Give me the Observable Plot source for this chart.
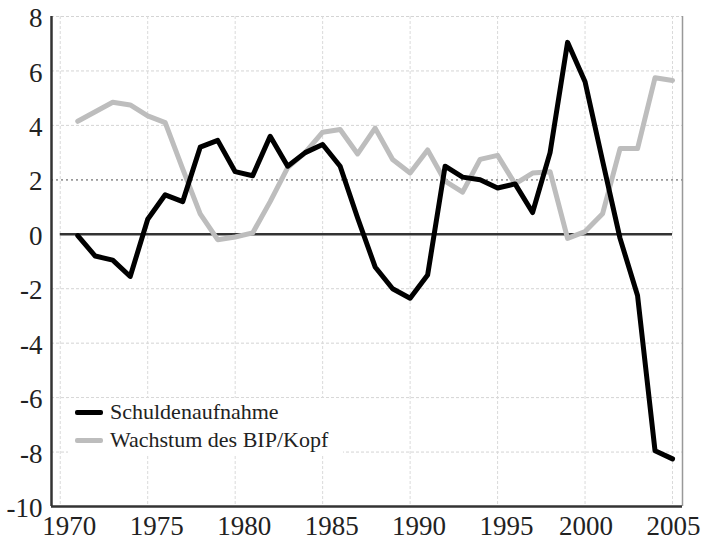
<!DOCTYPE html>
<html>
<head>
<meta charset="utf-8">
<script src="https://cdn.jsdelivr.net/npm/d3@7"></script>
<script src="https://cdn.jsdelivr.net/npm/@observablehq/plot@0.6"></script>
<style>
  html, body { margin: 0; padding: 0; background: #fff; }
  #wrap { position: relative; width: 702px; height: 537px; }
  #chart svg, #chart svg text { font-family: "Liberation Serif", serif !important; }
  #chart svg text { font-size: 27px; }
  #legend { position: absolute; left: 68px; top: 398px; width: 275px; height: 56px; background: #fff;
            font-family: "Liberation Serif", serif; font-size: 22px; color: #222; }
  .row { position: absolute; left: 0; height: 28px; display: flex; align-items: center; }
  .sw { display: inline-block; width: 28px; height: 5px; margin-left: 7px; margin-right: 7px; border-radius: 2px; }
</style>
</head>
<body>
<div id="wrap">
  <div id="chart"></div>
  <div id="legend"></div>
</div>
<script>
const years = d3.range(1971, 2006);
const schuldenaufnahme = [
  -0.05, -0.8, -0.95, -1.55, 0.55, 1.45, 1.2, 3.2, 3.45, 2.3,
  2.15, 3.6, 2.5, 3.0, 3.3, 2.5, 0.6, -1.2, -2.0, -2.35,
  -1.5, 2.5, 2.1, 2.0, 1.7, 1.85, 0.8, 3.0, 7.05, 5.6,
  2.7, -0.15, -2.25, -7.95, -8.25
];
const wachstumBIP = [
  4.15, 4.5, 4.85, 4.75, 4.35, 4.1, 2.4, 0.75, -0.2, -0.1,
  0.05, 1.2, 2.45, 3.0, 3.75, 3.85, 2.95, 3.9, 2.75, 2.25,
  3.1, 1.95, 1.55, 2.75, 2.9, 1.85, 2.25, 2.3, -0.15, 0.1,
  0.75, 3.15, 3.15, 5.75, 5.65
];
const seriesNames = ["Schuldenaufnahme", "Wachstum des BIP/Kopf"];
const seriesColors = ["#000000", "#bdbdbd"];
const xTicksA = [1970, 1975, 1980, 1985, 1990, 1995];
const xTicksB = [2000, 2005];
const yTicks = [-10, -8, -6, -4, -2, 0, 2, 4, 6, 8];
const xDomain = [1969.5, 2005.57];
const yDomain = [-10, 8];

const rows = [];
years.forEach((yr, i) => {
  rows.push({year: yr, value: schuldenaufnahme[i], series: seriesNames[0]});
  rows.push({year: yr, value: wachstumBIP[i], series: seriesNames[1]});
});

const font = "Liberation Serif";
const fmt = d => String(d);
const chart = Plot.plot({
  width: 702,
  height: 537,
  marginTop: 16,
  marginBottom: 31,
  marginLeft: 51,
  marginRight: 20,
  style: {fontFamily: font, fontSize: "27px", color: "#222", background: "#fff"},
  x: {domain: xDomain, axis: null, label: null},
  y: {domain: yDomain, axis: null, label: null},
  color: {domain: seriesNames, range: seriesColors},
  marks: [
    Plot.gridY(yTicks.filter(d => d !== 2 && d !== 0 && d !== -10), {stroke: "#d4d4d4", strokeOpacity: 1, strokeDasharray: "3,2"}),
    Plot.gridX([...xTicksA, ...xTicksB], {stroke: "#dadada", strokeOpacity: 1, strokeDasharray: "3,2"}),
    Plot.ruleY([2], {stroke: "#999", strokeWidth: 1.6, strokeDasharray: "2,3"}),
    Plot.ruleY([0], {x1: xTicksA[0], x2: xTicksB[xTicksB.length - 1], stroke: "#333", strokeWidth: 2.5}),
    Plot.ruleX([xDomain[1]], {stroke: "#999", strokeWidth: 1.5}),
    Plot.line(rows.filter(d => d.series === seriesNames[1]), {x: "year", y: "value", stroke: "series", strokeWidth: 5, strokeLinejoin: "round"}),
    Plot.line(rows.filter(d => d.series === seriesNames[0]), {x: "year", y: "value", stroke: "series", strokeWidth: 5, strokeLinejoin: "round"}),
    Plot.ruleX([xDomain[0]], {stroke: "#333", strokeWidth: 2.5}),
    Plot.ruleY([yDomain[0]], {stroke: "#333", strokeWidth: 2.5}),
    Plot.axisY(yTicks, {tickSize: 0, tickPadding: 9, fontSize: 27, dy: 2, fill: "#222", tickFormat: fmt, label: null}),
    Plot.axisX(xTicksA, {tickSize: 0, tickPadding: 9, fontSize: 27, dx: 9, fill: "#222", tickFormat: fmt, label: null}),
    Plot.axisX(xTicksB, {tickSize: 0, tickPadding: 9, fontSize: 27, dx: 1, fill: "#222", tickFormat: fmt, label: null})
  ]
});
document.getElementById("chart").appendChild(chart);

const legend = document.getElementById("legend");
seriesNames.forEach((name, i) => {
  const row = document.createElement("div");
  row.className = "row";
  row.style.top = (i * 28) + "px";
  const sw = document.createElement("span");
  sw.className = "sw";
  sw.style.background = seriesColors[i];
  const label = document.createElement("span");
  label.textContent = name;
  row.appendChild(sw);
  row.appendChild(label);
  legend.appendChild(row);
});
</script>
</body>
</html>
